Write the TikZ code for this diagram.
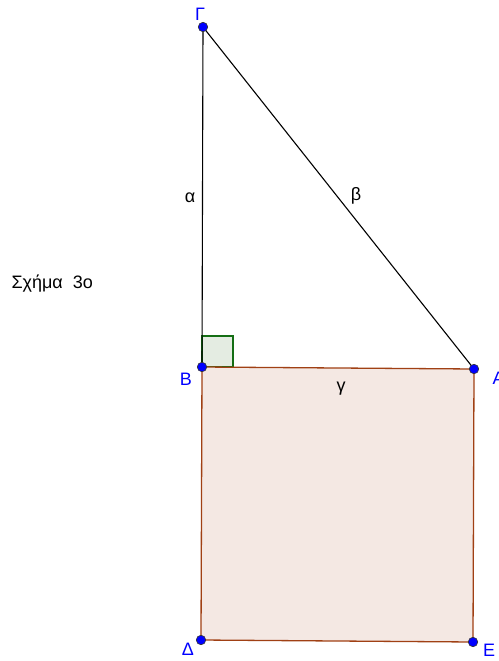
\documentclass[tikz,border=0pt]{standalone}
\usepackage{fontspec}
\setmainfont{Liberation Sans}
\begin{document}
\begin{tikzpicture}[x=1pt,y=-1pt,
  pt/.style={circle,fill=blue,draw=black!80,line width=0.6pt,inner sep=0pt,minimum size=9.5pt},
  lbl/.style={text=blue,font=\fontsize{18}{18}\selectfont},
  seg/.style={font=\fontsize{18}{18}\selectfont}]
\useasboundingbox (0,0) rectangle (498,661);
\coordinate (G) at (203,27);
\coordinate (B) at (202,367);
\coordinate (A) at (474,369);
\coordinate (D) at (201,640);
\coordinate (E) at (473,642);
\filldraw[fill={rgb,255:red,228;green,236;blue,226},draw={rgb,255:red,20;green,110;blue,20},line width=1.1pt] (B) -- (202,336) -- (233,336) -- (233,367) -- cycle;
\filldraw[fill={rgb,255:red,244;green,232;blue,227},draw={rgb,255:red,160;green,64;blue,20},line width=1.3pt] (B) -- (A) -- (E) -- (D) -- cycle;
\draw[line width=1.1pt] (B) -- (G) -- (A);
\node[pt] (nG) at (G) {};
\node[pt] (nB) at (B) {};
\node[pt] (nA) at (A) {};
\node[pt] (nD) at (D) {};
\node[pt] (nE) at (E) {};
\node[lbl] (lG) at (200,14) {Γ};
\node[lbl] (lB) at (186,379) {B};
\node[lbl,anchor=west] (lA) at (489,378) {A};
\node[lbl] (lD) at (188,649) {Δ};
\node[lbl] (lE) at (489,650) {E};
\node[seg] (la) at (190,198) {α};
\node[seg] (lb) at (356,196) {β};
\node[seg] (lc) at (341,389) {γ};
\node[seg,anchor=west] (title) at (8,284) {Σχήμα\ \ 3ο};
\end{tikzpicture}
\end{document}
